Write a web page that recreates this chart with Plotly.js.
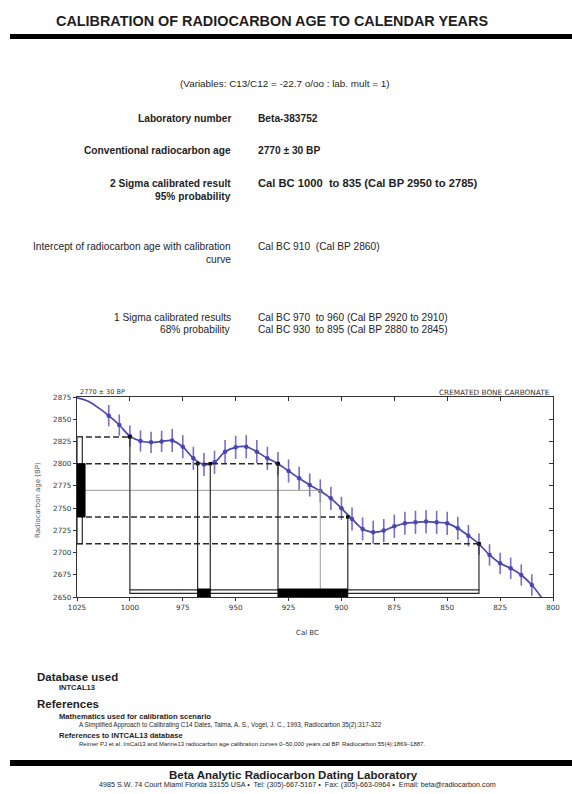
<!DOCTYPE html>
<html><head><meta charset="utf-8">
<script src="https://cdn.plot.ly/plotly-3.0.1.min.js"></script>
<style>html,body{margin:0;padding:0;background:#fff;}#chart{width:572px;height:794px;}</style>
</head><body><div id="chart"></div>
<script>
// ---- data ----
const curveYears = [1025,1020,1015,1010,1005,1000,995,990,985,980,975,970,965,960,955,950,945,940,935,930,925,920,915,910,905,900,895,890,885,880,875,870,865,860,855,850,845,840,835,830,825,820,815,810,805];
const curveAges  = [2874,2870.5,2863,2854,2843.5,2831,2825.5,2824,2825,2826,2819,2806,2799,2801.5,2813.5,2818.4,2819,2813.5,2806,2800,2791.8,2783.5,2776,2769.3,2761,2749.8,2737.8,2726.6,2722.8,2724.7,2729.5,2732.9,2734,2734.8,2734,2732.9,2727.3,2719,2709.6,2697.3,2687.9,2682.3,2674.8,2663.5,2648];
const curveErr   = [0,0,0,12,12,12,12,12,12,13,13,13,13,13,13,13,13,13,13,13,13,13,13,13,13,13,13,13,13,13,13,13,13,13,13,13,13,12,12,12,12,12,12,12,0];
const conventionalAge = 2770;
const ageSigma = 30;
const twoSigmaRanges = [[1000, 835]];
const oneSigmaRanges = [[968, 962], [930, 897]];
const interceptYear = 910;
const interceptYears = [1000, 968, 962, 930, 897, 835];
const interceptAges  = [2830, 2800, 2800, 2800, 2740, 2710];
const xTickVals = [1025,1000,975,950,925,900,875,850,825,800];
const yTickVals = [2650,2675,2700,2725,2750,2775,2800,2825,2850,2875];

// ---- geometry helpers (page pixels -> paper) ----
const L=77, R=553, T=397, B=597;
const px = x => (x-L)/(R-L);
const py = y => (B-y)/(B-T);

const blue = '#4a48a8';
const dotMask = curveErr.map(e => e > 0);
const dotX = curveYears.filter((_, i) => dotMask[i]);
const dotY = curveAges.filter((_, i) => dotMask[i]);
const dotE = curveErr.filter((_, i) => dotMask[i]);

const xMin = 1025, yMin = 2650;
const band2Lo = 2654, band2Hi = 2658, band1Hi = 2659;

const traces = [];
traces.push({x: curveYears, y: curveAges, mode: 'lines', line: {color: blue, width: 1.7, shape: 'spline'}, hoverinfo: 'skip', showlegend: false});
traces.push({x: dotX, y: dotY, mode: 'markers', marker: {color: '#4646b4', size: 4.5},
  error_y: {type: 'data', array: dotE, visible: true, color: '#7c6cc8', thickness: 1.6, width: 0}, showlegend: false});
traces.push({x: interceptYears, y: interceptAges, mode: 'markers', marker: {color: '#000', size: 3.5, symbol: 'square'}, showlegend: false});
traces.push({x: [], y: [], xaxis: 'x2', yaxis: 'y2', showlegend: false});

const shapes = [];
const dash = {color: '#2a2a2a', width: 1.5, dash: '6px,3px'};
const solid = {color: '#2a2a2a', width: 1.2};
const hi1 = conventionalAge + ageSigma, lo1 = conventionalAge - ageSigma;
const hi2 = conventionalAge + 2*ageSigma, lo2 = conventionalAge - 2*ageSigma;
shapes.push({type:'line', xref:'x', yref:'y', x0:xMin, x1:twoSigmaRanges[0][0], y0:hi2, y1:hi2, line:dash});
shapes.push({type:'line', xref:'x', yref:'y', x0:xMin, x1:twoSigmaRanges[twoSigmaRanges.length-1][1], y0:lo2, y1:lo2, line:dash});
shapes.push({type:'line', xref:'x', yref:'y', x0:xMin, x1:oneSigmaRanges[oneSigmaRanges.length-1][0], y0:hi1, y1:hi1, line:dash});
shapes.push({type:'line', xref:'x', yref:'y', x0:xMin, x1:oneSigmaRanges[oneSigmaRanges.length-1][1], y0:lo1, y1:lo1, line:dash});
shapes.push({type:'line', xref:'x', yref:'y', x0:xMin, x1:interceptYear, y0:conventionalAge, y1:conventionalAge, line:{color:'#9a9a9a', width:1}});
shapes.push({type:'line', xref:'x', yref:'y', x0:interceptYear, x1:interceptYear, y0:conventionalAge, y1:band2Hi, line:{color:'#9a9a9a', width:1}});
interceptYears.forEach((yr, i) => {
  shapes.push({type:'line', xref:'x', yref:'y', x0:yr, x1:yr, y0:interceptAges[i], y1:band2Hi, line:solid});
});
twoSigmaRanges.forEach(r => shapes.push({type:'rect', xref:'x', yref:'y', x0:r[0], x1:r[1], y0:band2Lo, y1:band2Hi, fillcolor:'#fff', line:{color:'#2a2a2a', width:1.2}}));
oneSigmaRanges.forEach(r => shapes.push({type:'rect', xref:'x', yref:'y', x0:r[0], x1:r[1], y0:yMin, y1:band1Hi, fillcolor:'#000', line:{color:'#000', width:1}}));
shapes.push({type:'rect', xref:'x', yref:'y', x0:xMin, x1:1022.5, y0:lo2, y1:hi2, fillcolor:'#fff', line:{color:'#2a2a2a', width:1.2}});
shapes.push({type:'rect', xref:'x', yref:'y', x0:xMin, x1:1021.2, y0:lo1, y1:hi1, fillcolor:'#000', line:{color:'#000', width:1}});
// page rules
shapes.push({type:'rect', xref:'paper', yref:'paper', x0:px(10), x1:px(572), y0:py(34), y1:py(39), fillcolor:'#000', line:{width:0}});
shapes.push({type:'rect', xref:'paper', yref:'paper', x0:px(10), x1:px(572), y0:py(760), y1:py(766), fillcolor:'#000', line:{width:0}});

const F = 'Liberation Sans, Arial, sans-serif';
const FD = 'DejaVu Sans, sans-serif';
const tc = '#1e1e1e';
const nb = '\u00a0';
function ann(text, x, y, size, xanchor, opts) {
  return Object.assign({text, x: px(x), y: py(y), xref:'paper', yref:'paper', xanchor: xanchor || 'left', yanchor:'middle', showarrow:false, font:{family:F, size, color:tc}}, opts || {});
}
const labX = 233, valX = 256, fs = 10.2;
const annotations = [
  ann('<b>CALIBRATION OF RADIOCARBON AGE TO CALENDAR YEARS</b>', 272, 21, 14.4, 'center'),
  ann('(Variables: C13/C12 = -22.7 o/oo : lab. mult = 1)', 285, 83, 9.9, 'center'),
  ann('<b>Laboratory number</b>', labX, 118, fs, 'right'),
  ann('<b>Beta-383752</b>', valX, 118, fs),
  ann('<b>Conventional radiocarbon age</b>', labX, 150, fs, 'right'),
  ann('<b>2770 ± 30 BP</b>', valX, 150, fs),
  ann('<b>2 Sigma calibrated result</b>', labX, 183, fs, 'right'),
  ann('<b>95% probability</b>', labX, 196, fs, 'right'),
  ann('<b>Cal BC 1000 ' + nb + 'to 835 (Cal BP 2950 to 2785)</b>', valX, 183, 11.2),
  ann('Intercept of radiocarbon age with calibration', labX, 246, fs, 'right'),
  ann('curve', labX, 259, fs, 'right'),
  ann('Cal BC 910 ' + nb + '(Cal BP 2860)', valX, 246, fs),
  ann('1 Sigma calibrated results', labX, 317, fs, 'right'),
  ann('68% probability', labX, 329, fs, 'right'),
  ann('Cal BC 970 ' + nb + 'to 960 (Cal BP 2920 to 2910)', valX, 317, fs),
  ann('Cal BC 930 ' + nb + 'to 895 (Cal BP 2880 to 2845)', valX, 329, fs),
  ann('2770 ± 30 BP', 78, 392, 6.5, 'left', {font:{family:FD, size:6.5, color:'#333'}}),
  ann('CREMATED BONE CARBONATE', 552, 392, 7.3, 'right', {font:{family:FD, size:7.3, color:'#333'}}),
  ann('Cal BC', 307, 633, 7, 'center', {font:{family:FD, size:7, color:'#333'}}),
  ann('Radiocarbon age (BP)', 38, 500, 7, 'center', {textangle:-90, font:{family:FD, size:7, color:'#555'}}),
  ann('<b>Database used</b>', 35, 677, 11.5),
  ann('<b>INTCAL13</b>', 57, 687, 7.5),
  ann('<b>References</b>', 35, 704, 11.5),
  ann('<b>Mathematics used for calibration scenario</b>', 57, 716, 7.6),
  ann('A Simplified Approach to Calibrating C14 Dates, Talma, A. S., Vogel, J. C., 1993, Radiocarbon 35(2):317-322', 77, 725, 6.3),
  ann('<b>References to INTCAL13 database</b>', 57, 735, 7.6),
  ann('Reimer PJ et al. IntCal13 and Marine13 radiocarbon age calibration curves 0–50,000 years cal BP. Radiocarbon 55(4):1869–1887.', 77, 744, 6),
  ann('<b>Beta Analytic Radiocarbon Dating Laboratory</b>', 293, 775, 11.5, 'center'),
  ann('4985 S.W. 74 Court Miami Florida 33155 USA •  Tel: (305)-667-5167 •  Fax: (305)-663-0964 •  Email: beta@radiocarbon.com', 297, 784, 7.2, 'center')
];

const axisCommon = {showgrid:false, zeroline:false, linecolor:'#333', linewidth:1.2, tickcolor:'#333', tickfont:{family:FD, size:7.2, color:'#333'}};
const layout = {
  width:572, height:794, margin:{l:L, r:572-R, t:T, b:794-B, pad:0},
  paper_bgcolor:'#fff', plot_bgcolor:'#fff', showlegend:false,
  xaxis: Object.assign({}, axisCommon, {range:[1025, 800], tickvals:xTickVals, ticks:'outside', ticklen:3, mirror:true, showline:true}),
  yaxis: Object.assign({}, axisCommon, {range:[2650, 2875], tickvals:yTickVals, ticks:'outside', ticklen:3, mirror:true, showline:true}),
  xaxis2: Object.assign({}, axisCommon, {overlaying:'x', side:'top', range:[1025, 800], tickvals:xTickVals, ticks:'inside', ticklen:4, showticklabels:false, showline:false}),
  yaxis2: Object.assign({}, axisCommon, {overlaying:'y', side:'right', range:[2650, 2875], tickvals:yTickVals, ticks:'inside', ticklen:4, showticklabels:false, showline:false}),
  shapes, annotations
};
Plotly.newPlot('chart', traces, layout, {staticPlot:true, displayModeBar:false});
</script></body></html>
